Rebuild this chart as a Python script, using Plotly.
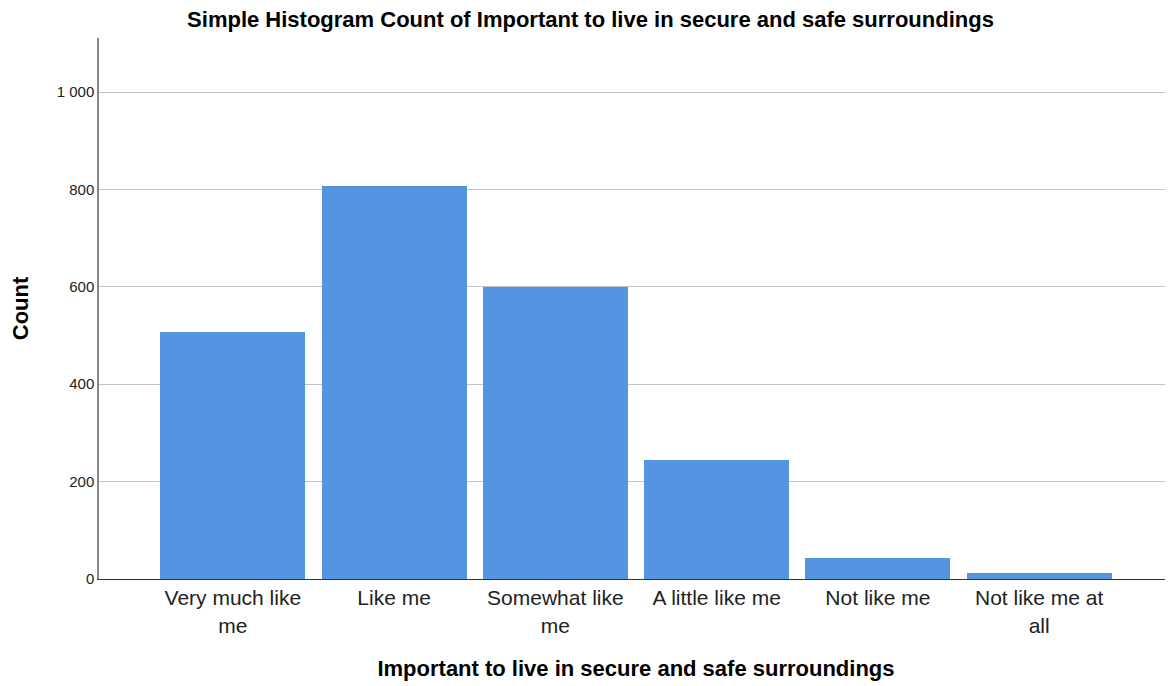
import plotly.graph_objects as go

categories = ["Very much like<br>me", "Like me", "Somewhat like<br>me", "A little like me", "Not like me", "Not like me at<br>all"]
counts = [507, 807, 600, 244, 43, 12]
y_tick_vals = [0, 200, 400, 600, 800, 1000]

FONT = "Liberation Sans, Arial, sans-serif"

fig = go.Figure(go.Bar(
    x=list(range(len(categories))),
    y=counts,
    width=0.9,
    marker=dict(color="#5594E3", line=dict(width=0)),
))

fig.update_layout(
    width=1165, height=678,
    margin=dict(l=91, r=0, t=30, b=107),
    paper_bgcolor="white", plot_bgcolor="white",
    separators=". ",
    font=dict(family=FONT, color="#000000"),
    showlegend=False,
    title=dict(
        text="<b>Simple Histogram Count of Important to live in secure and safe surroundings</b>",
        x=0.5, xanchor="center", xref="container", y=0.984, yanchor="middle",
        font=dict(size=22, family=FONT, color="#000000"),
    ),
    bargap=0,
)

fig.update_xaxes(
    tickmode="array",
    tickvals=list(range(len(categories))),
    ticktext=categories,
    range=[-0.83, 5.83],
    showgrid=False,
    showline=True, linecolor="#333333", linewidth=1,
    ticks="",
    tickfont=dict(size=21, color="#222222"),
    title=dict(text="<b>Important to live in secure and safe surroundings</b>", font=dict(size=22), standoff=25),
)

fig.update_yaxes(
    range=[0, 1111],
    tickmode="array",
    tickvals=y_tick_vals,
    tickformat=",d",
    showgrid=True, gridcolor="#c4c4c4", gridwidth=1,
    zeroline=False,
    showline=True, linecolor="#888888", linewidth=1.5,
    ticks="",
    ticklen=0,
    tickfont=dict(size=15, color="#222222"),
    title=dict(text="<b>Count</b>", font=dict(size=22), standoff=26),
)

fig.write_html("out.html")
